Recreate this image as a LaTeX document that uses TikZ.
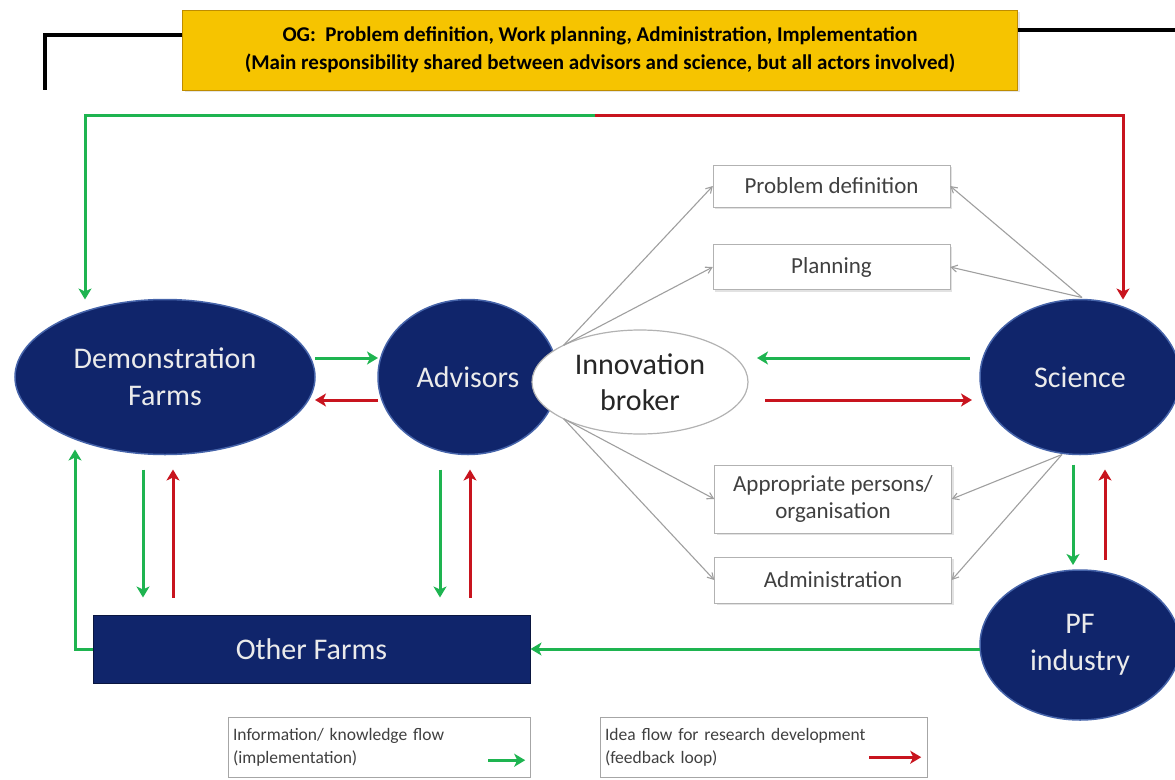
\documentclass[tikz,border=0pt]{standalone}
\usepackage{fontspec}
\setmainfont{Carlito}
\usetikzlibrary{calc,shapes.geometric,shadows,arrows.meta}

\definecolor{navy}{RGB}{16,37,107}
\definecolor{rim}{RGB}{70,100,170}
\definecolor{flowgreen}{RGB}{30,180,80}
\definecolor{flowred}{RGB}{200,20,30}
\definecolor{gold}{RGB}{246,196,0}
\definecolor{goldrim}{RGB}{190,140,0}
\definecolor{boxtext}{RGB}{64,64,64}

\begin{document}
\begin{tikzpicture}[
        x=1pt,y=-1pt
        ,actor/.style={ellipse,fill=navy,draw=rim,line width=1.5pt,text=white!92!black,inner sep=0pt,outer sep=0pt,align=center,font=\fontsize{30}{37}\selectfont}
        ,broker/.style={ellipse,fill=white,draw=gray!60,line width=1.2pt,text=black!85,inner sep=0pt,outer sep=0pt,align=center,minimum width=216pt,minimum height=104pt,font=\fontsize{30}{36}\selectfont}
        ,farmbox/.style={rectangle,fill=navy,draw=navy!60!black,line width=1pt,text=white!92!black,minimum width=437pt,minimum height=68pt,font=\fontsize{30}{36}\selectfont}
        ,task/.style={rectangle,draw=gray!60,fill=white,thin,drop shadow={shadow xshift=2pt,shadow yshift=-2pt,fill=gray!45},text=boxtext,align=center,minimum width=237pt,inner sep=2pt,font=\fontsize{23}{27}\selectfont}
        ,og/.style={rectangle,fill=gold,draw=goldrim,thin,drop shadow={shadow xshift=2pt,shadow yshift=-2pt,fill=gray!40},align=center,minimum width=835pt,minimum height=80pt,font=\bfseries\fontsize{21}{28}\selectfont}
        ,legend/.style={rectangle,draw=gray!70,fill=white,thin,text=boxtext,align=left,text width=292pt,inner sep=5pt,minimum height=60pt,font=\fontsize{17.5}{23}\selectfont}
        ,green flow/.style={draw=flowgreen,line width=3pt,-{Stealth[length=11pt,width=13pt,inset=3pt]}}
        ,red flow/.style={draw=flowred,line width=3pt,-{Stealth[length=11pt,width=13pt,inset=3pt]}}
        ,link/.style={draw=gray!75,line width=1.1pt,-{Straight Barb[length=6pt,width=7pt]}}
        ,frame line/.style={draw=black,line width=3.5pt}
    ]
    \useasboundingbox (0,0) rectangle (1175,779);
    % Operational group
    \node[og] (og) at (600,50) {OG:\ \ Problem definition, Work planning, Administration, Implementation\\(Main responsibility shared between advisors and science, but all actors involved)};
    \coordinate (ogleft) at (45,90);
    \coordinate (ogright) at (1175,30);
    \draw[frame line] ($(og.west)+(0,-15)$) -| (ogleft);
    \draw[frame line] ($(og.east)+(0,-20)$) -- (ogright);
    % Actors
    \node[actor,minimum width=300pt,minimum height=155pt] (df) at (165,377) {Demonstration\\Farms};
    \node[actor,minimum width=180pt,minimum height=155pt] (adv) at (468,377) {Advisors};
    \node[broker] (ib) at (640,382) {Innovation\\broker};
    \node[actor,minimum width=200pt,minimum height=155pt] (sci) at (1080,377) {Science};
    \node[actor,minimum width=200pt,minimum height=150pt] (pf) at (1080,645) {PF\\industry};
    \node[farmbox] (of) at (311.5,649) {Other Farms};
    % Tasks of the broker
    \node[task,minimum height=42pt] (pd) at (831.5,186) {Problem definition};
    \node[task,minimum height=45pt] (plan) at (831.5,267) {Planning};
    \node[task,minimum height=68pt] (app) at (833,499) {Appropriate persons/\\organisation};
    \node[task,minimum height=46pt] (adm) at (833,580) {Administration};
    % Top loop
    \coordinate (split) at (595,115);
    \draw[green flow] (split) -| ($(df.north)+(-80,0)$);
    \draw[red flow] (split) -| ($(sci.north)+(43,0)$);
    % Flows between actors
    \draw[green flow] ($(df.east)+(0,-19)$) -- ($(adv.west)+(0,-19)$);
    \draw[red flow] ($(adv.west)+(0,23)$) -- ($(df.east)+(0,23)$);
    \draw[green flow] ($(sci.west)+(-10,-19)$) -- ($(ib.east)+(9,-24)$);
    \draw[red flow] ($(ib.east)+(17,18)$) -- ($(sci.west)+(-8,23)$);
    \draw[green flow] ($(df.south)+(-22,15)$) -- ($(df.south |- of.north)+(-22,-17)$);
    \draw[red flow] ($(df.south |- of.north)+(8,-17)$) -- ($(df.south)+(8,15)$);
    \draw[green flow] ($(adv.south)+(-28,15)$) -- ($(adv.south |- of.north)+(-28,-17)$);
    \draw[red flow] ($(adv.south |- of.north)+(2,-17)$) -- ($(adv.south)+(2,15)$);
    \draw[green flow] ($(sci.south)+(-7,10)$) -- ($(pf.north)+(-7,-5)$);
    \draw[red flow] ($(pf.north)+(25,-10)$) -- ($(sci.south)+(25,15)$);
    \draw[green flow] (pf.west |- of.east) -- (of.east);
    \draw[green flow] (of.west) -| ($(df.south)+(-90,-5)$);
    % Broker and science to tasks
    \draw[link] (ib.north west) -- (pd.west);
    \draw[link] (ib.north west) -- (plan.west);
    \draw[link] (ib.south west) -- (app.west);
    \draw[link] (ib.south west) -- (adm.west);
    \draw[link] ($(sci.north)+(2,-2)$) -- (pd.east);
    \draw[link] ($(sci.north)+(2,-2)$) -- (plan.east);
    \draw[link] ($(sci.south)+(-18,0)$) -- (app.east);
    \draw[link] ($(sci.south)+(-18,0)$) -- (adm.east);
    % Legend
    \node[legend] (leg1) at (379,747) {Information/ knowledge flow\\(implementation)};
    \node[legend,text width=317pt] (leg2) at (763.5,747) {Idea flow for research development\\(feedback loop)};
    \draw[green flow] ($(leg1.south east)+(-42,-17)$) -- ($(leg1.south east)+(-5,-17)$);
    \draw[red flow] ($(leg2.south east)+(-58,-20)$) -- ($(leg2.south east)+(-6,-20)$);
\end{tikzpicture}
\end{document}
